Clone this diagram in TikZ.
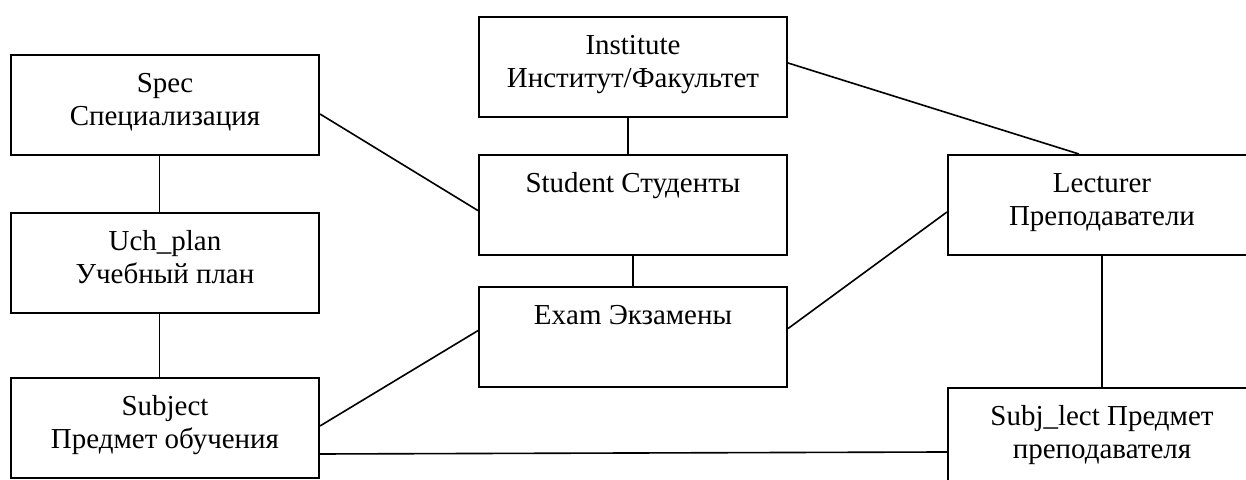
\documentclass[tikz,border=0pt]{standalone}
\usepackage{fontspec}
\setmainfont{Liberation Serif}
\usepackage{xcolor}
\usepackage{tikz}
\usetikzlibrary{calc}
\newcommand{\boxlabel}[1]{\parbox[c][2.5cm][t]{7.7cm}{\centering\vspace*{0.375cm}\strut #1}}

\begin{document}
\begin{tikzpicture}[
  entity/.style={draw, line width=1.4pt, inner sep=0pt, minimum width=7.7cm, minimum height=2.5cm,
    anchor=north west, font=\fontsize{20.6}{23.3}\selectfont},
  link/.style={line width=1.15pt}]
\clip (0,0) rectangle (31.15,-11.975);
%
\coordinate (specpos) at (0.25,-1.35);
\coordinate (planpos) at (0.25,-5.3);
\coordinate (subjpos) at (0.25,-9.425);
\coordinate (instpos) at (11.95,-0.4);
\coordinate (studpos) at (11.95,-3.85);
\coordinate (exampos) at (11.95,-7.15);
\coordinate (lectpos) at (23.675,-3.85);
\coordinate (sublpos) at (23.675,-9.675);
%
\node[entity] (spec) at (specpos) {\boxlabel{Spec\\Специализация}};
\node[entity] (plan) at (planpos) {\boxlabel{Uch\_plan\\Учебный план}};
\node[entity] (subject) at (subjpos) {\boxlabel{Subject\\Предмет обучения}};
\node[entity] (inst) at (instpos) {\boxlabel{Institute\\Институт/Факультет}};
\node[entity] (student) at (studpos) {\boxlabel{Student Студенты}};
\node[entity] (exam) at (exampos) {\boxlabel{Exam Экзамены}};
\node[entity] (lecturer) at (lectpos) {\boxlabel{Lecturer\\Преподаватели}};
\node[entity] (subjlect) at (sublpos) {\boxlabel{Subj\_lect Предмет\\преподавателя}};
%
\draw[link] ([xshift=-0.14cm]spec.south) -- ([xshift=-0.14cm]plan.north);
\draw[link] ([xshift=-0.14cm]plan.south) -- ([xshift=-0.14cm]subject.north);
\draw[link] ([xshift=-0.125cm]inst.south) -- ([xshift=-0.125cm]student.north);
\draw[link] (student.south) -- (exam.north);
\draw[link] (lecturer.south) -- (subjlect.north);
%
\draw[link] ([yshift=-0.225cm]spec.east) -- ([yshift=-0.14cm]student.west);
\draw[link] ([yshift=0.1cm]inst.east) -- ([xshift=-0.575cm]lecturer.north);
\draw[link] ([yshift=0.21cm]exam.east) -- ([yshift=-0.175cm]lecturer.west);
\draw[link] ([yshift=0.05cm]subject.east) -- ([yshift=0.16cm]exam.west);
\draw[link] ([yshift=-0.65cm]subject.east) -- ([yshift=-0.35cm]subjlect.west);
\end{tikzpicture}
\end{document}
